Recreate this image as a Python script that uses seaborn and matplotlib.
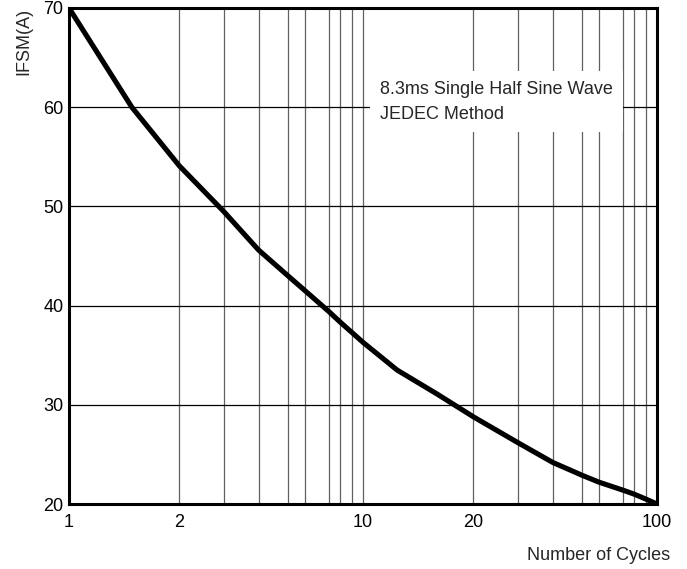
import numpy as np
import pandas as pd
import matplotlib
matplotlib.use("Agg")
import matplotlib.pyplot as plt
from matplotlib.ticker import FixedLocator, NullFormatter, FixedFormatter
import seaborn as sns

# ---- data ----
cycles = [1, 1.57, 2, 3, 4, 5, 6, 7, 8, 9, 10, 13.1, 16.7, 20, 30, 40, 50, 60, 70, 80, 90, 100]
ifsm = [70, 60, 54.1, 49.5, 45.6, 43.0, 41.5, 39.4, 38.35, 37.3, 36.3, 33.5, 31.1, 28.8,
        26.2, 24.2, 22.9, 22.2, 21.4, 21.0, 20.5, 20.0]
x_major = [1, 2, 10, 20, 100]
x_major_labels = ["1", "2", "10", "20", "100"]
x_minor = [3, 4, 5, 6, 7, 8, 9, 30, 40, 50, 60, 70, 80, 90]
y_ticks = [20, 30, 40, 50, 60, 70]
note = "8.3ms Single Half Sine Wave\nJEDEC Method"

# distorted log paper of the original datasheet: position of mantissa within a decade
MANT = np.array([1, 2, 3, 4, 5, 6, 7, 8, 9, 10], float)
FRAC = np.array([0, .375, .526, .645, .745, .803, .884, .922, .962, 1.0])


def fwd(x):
    x = np.asarray(x, float)
    with np.errstate(all="ignore"):
        xs = np.where(x > 0, x, np.nan)
        lx = np.log10(xs)
        k = np.floor(lx + 1e-12)
        m = xs / 10.0 ** k
    return k + np.interp(m, MANT, FRAC)


def inv(y):
    y = np.asarray(y, float)
    k = np.floor(y + 1e-12)
    f = y - k
    return 10.0 ** k * np.interp(f, FRAC, MANT)


sns.set_style("white")
plt.rcParams["font.family"] = ["Liberation Sans", "DejaVu Sans"]
FS = 13

fig = plt.figure(figsize=(6.87, 5.69), dpi=100)
ax = fig.add_axes([0.1004, 0.1142, 0.8559, 0.8718])

df = pd.DataFrame({"cycles": cycles, "ifsm": ifsm})
sns.lineplot(data=df, x="cycles", y="ifsm", ax=ax, color="black", lw=3.7,
             estimator=None, sort=False, zorder=5)

ax.set_xscale("function", functions=(fwd, inv))
ax.set_xlim(1, 100)
ax.set_ylim(20, 70)

ax.xaxis.set_major_locator(FixedLocator(x_major))
ax.xaxis.set_major_formatter(FixedFormatter(x_major_labels))
ax.xaxis.set_minor_locator(FixedLocator(x_minor))
ax.xaxis.set_minor_formatter(NullFormatter())
ax.set_yticks(y_ticks)

ax.grid(False)
ax.grid(True, axis="x", which="both", color="#606060", lw=0.9)
ax.grid(True, axis="y", which="major", color="black", lw=0.9)
ax.set_axisbelow(True)

ax.tick_params(axis="both", which="both", length=0, labelsize=FS, colors="black")
ax.tick_params(axis="x", pad=7)
ax.tick_params(axis="y", pad=4)

for s in ax.spines.values():
    s.set_visible(True)
    s.set_color("black")
    s.set_linewidth(2.2)
    s.set_zorder(6)

ax.set_xlabel("")
ax.set_ylabel("")
fig.text(24 / 687, 1 - 8 / 569, "IFSM(A)", rotation=90, ha="center", va="top",
         fontsize=FS)
fig.text(670 / 687, 1 - 555 / 569, "Number of Cycles", ha="right", va="center",
         fontsize=FS)

ax.text(0.529, 0.852, note, transform=ax.transAxes, ha="left", va="top",
        fontsize=FS, linespacing=1.55, zorder=4,
        bbox=dict(boxstyle="square,pad=0.55", fc="white", ec="none"))

fig.savefig("out.png", dpi=100)
